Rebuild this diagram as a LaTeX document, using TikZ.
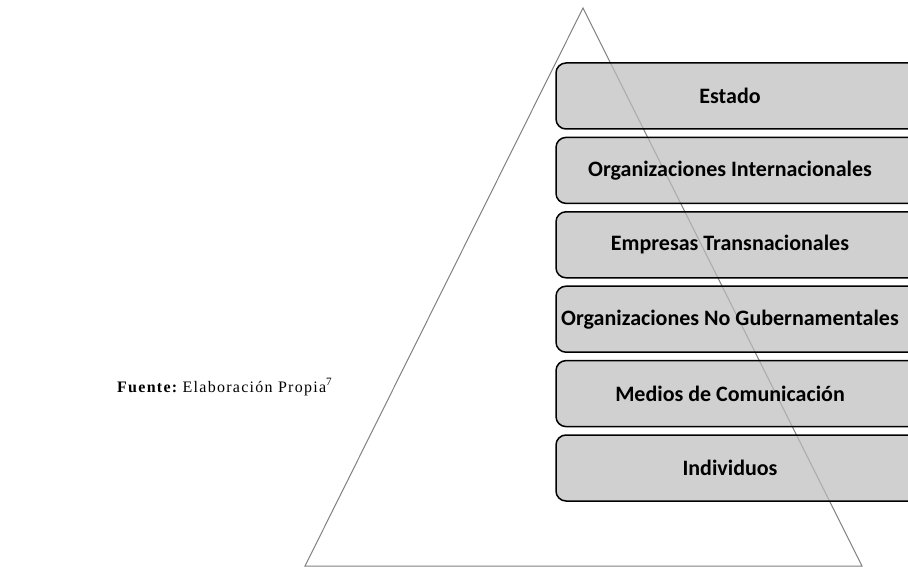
\documentclass[tikz,border=0pt]{standalone}
\usepackage{fontspec}
\setmainfont{Liberation Serif}
\newfontfamily\boxfont{Carlito}
\newfontfamily\spacedserif[LetterSpace=8]{Liberation Serif}
\begin{document}
\begin{tikzpicture}[x=1pt,y=-1pt,
  layer/.style={draw=black,line width=1.5pt,rounded corners=10pt,fill={rgb,255:red,188;green,188;blue,188},fill opacity=0.7,text opacity=1},
  lbl/.style={font=\boxfont\bfseries\fontsize{22}{26}\selectfont,text=black},
  tri/.style={draw={rgb,255:red,128;green,128;blue,128},line width=1pt}]
\useasboundingbox (0,0) rectangle (908,567);
\clip (0,0) rectangle (908,567);
\coordinate (apex) at (583,8);
\coordinate (bl) at (305,566);
\coordinate (br) at (862,566);
\draw[tri] (apex) -- (bl) -- (br) -- cycle;
\foreach \i/\t in {0/Estado,1/Organizaciones Internacionales,2/Empresas Transnacionales,3/Organizaciones No Gubernamentales,4/Medios de Comunicación,5/Individuos}{
  \pgfmathsetmacro{\top}{63+74.4*\i}
  \draw[layer] (556,\top) rectangle (930,\top+66);
  \node[lbl,name=b\i] at (730,\top+33) {\t};
}
\node[anchor=base west,inner sep=0pt,name=src] at (117,392) {\fontsize{16}{18}\selectfont{\spacedserif\bfseries Fuente:} {\spacedserif Elaboración Propia}\textsuperscript{7}};
\end{tikzpicture}
\end{document}
